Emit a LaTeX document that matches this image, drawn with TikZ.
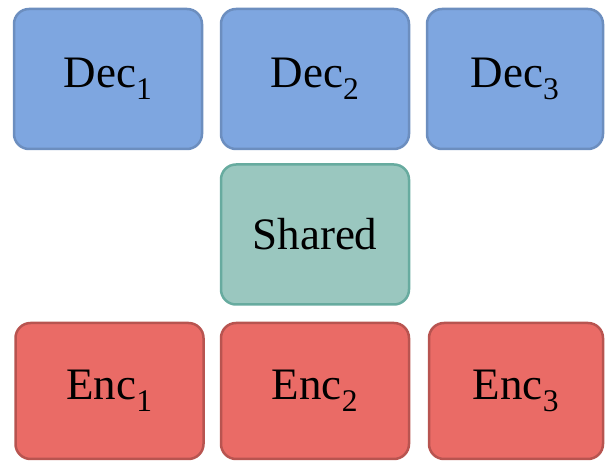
\documentclass[tikz,border=0pt]{standalone}
\usepackage{fontspec}
\setmainfont{Liberation Serif}
\definecolor{decfill}{HTML}{7EA6E0}
\definecolor{decline}{HTML}{6C8EBF}
\definecolor{sharedfill}{HTML}{9AC7BF}
\definecolor{sharedline}{HTML}{67AB9F}
\definecolor{encfill}{HTML}{EA6B66}
\definecolor{encline}{HTML}{B85450}
\tikzset{
  block/.style={draw, line width=2.5pt, rounded corners=15pt, minimum width=188pt,
    minimum height=140pt, inner sep=0pt, font=\fontsize{45}{50}\selectfont},
  decbox/.style={block, fill=decfill, draw=decline},
  sharedbox/.style={block, fill=sharedfill, draw=sharedline},
  encbox/.style={block, fill=encfill, draw=encline, minimum height=136pt}
}
\begin{document}
\begin{tikzpicture}[x=1pt,y=-1pt]
  \useasboundingbox (0,0) rectangle (606,462);

  %draw decoders
  \node[decbox] (dec1) at (108,79) {Dec\textsubscript{1}};
  \node[decbox] (dec2) at (315,79) {Dec\textsubscript{2}};
  \node[decbox, minimum width=176pt] (dec3) at (515,79) {Dec\textsubscript{3}};

  %draw shared block
  \node[sharedbox] (shared) at (315,234.5) {Shared};

  %draw encoders
  \node[encbox] (enc1) at (109.5,391) {Enc\textsubscript{1}};
  \node[encbox] (enc2) at (315,391) {Enc\textsubscript{2}};
  \node[encbox, minimum width=174pt] (enc3) at (516,391) {Enc\textsubscript{3}};
\end{tikzpicture}
\end{document}
